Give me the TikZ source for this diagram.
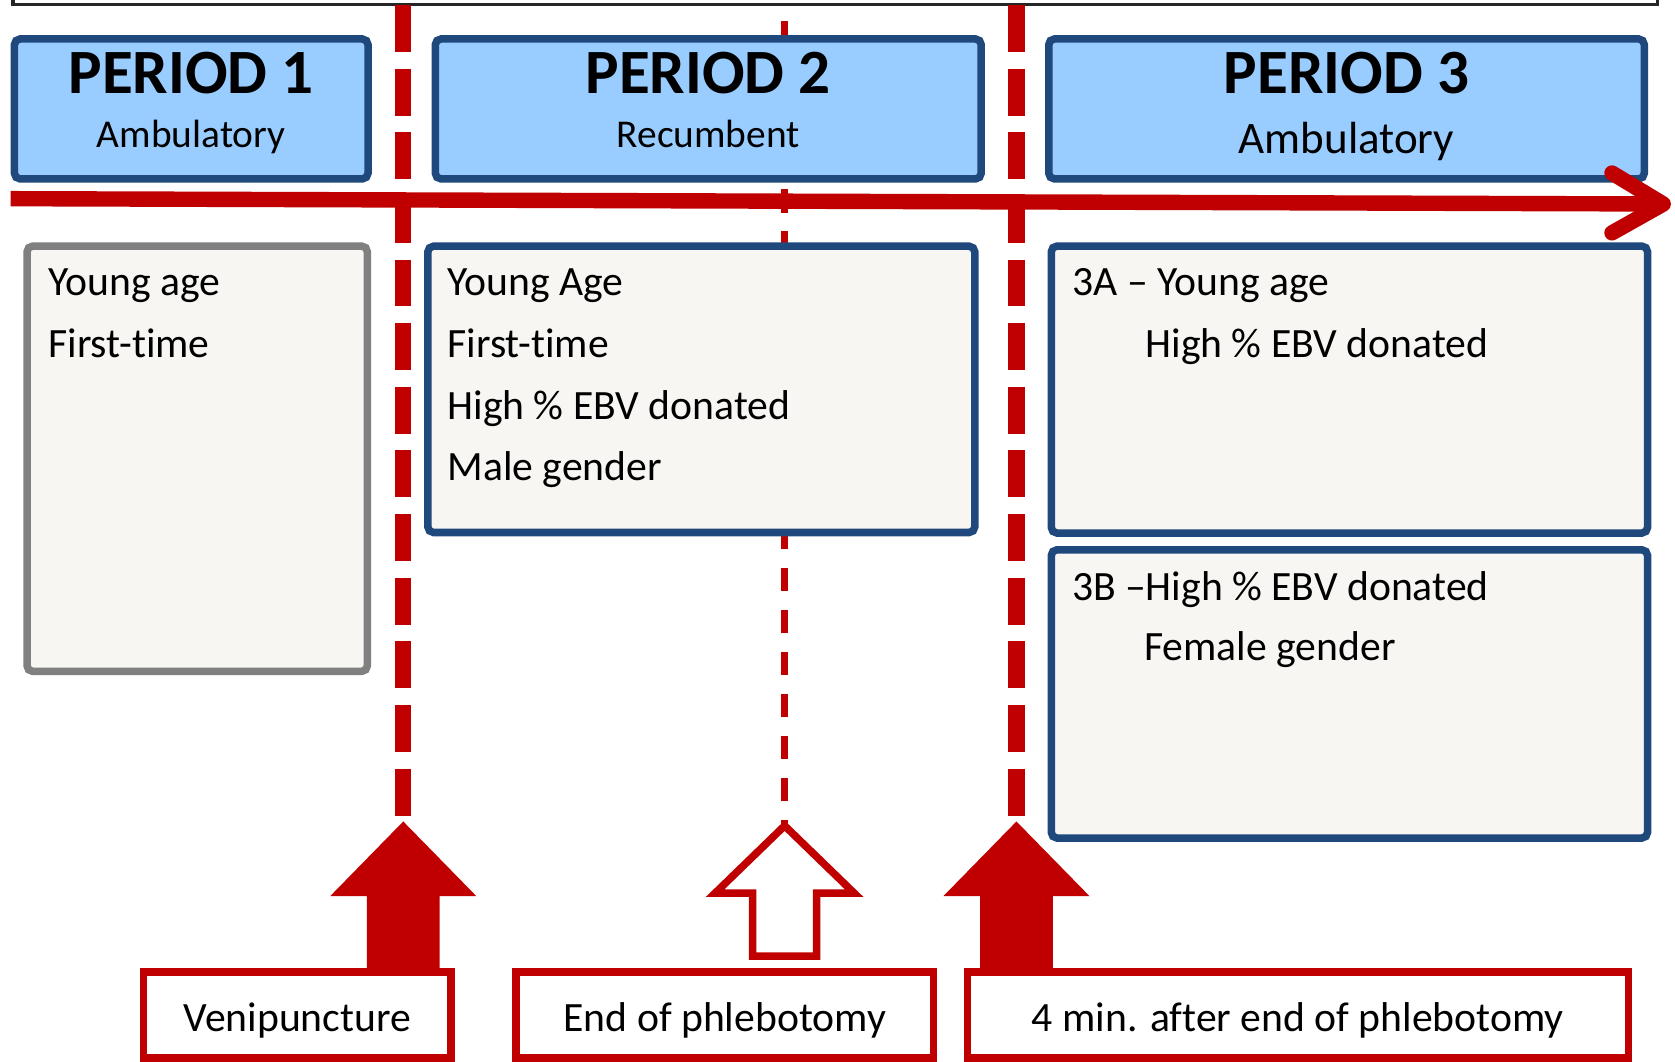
\documentclass[tikz,border=0pt]{standalone}
\usepackage{fontspec}
\setmainfont{Carlito}[Ligatures=NoCommon]
\usetikzlibrary{positioning, calc, backgrounds}
\definecolor{markred}{RGB}{192, 0, 0}
\definecolor{boxblue}{RGB}{31, 73, 125}
\definecolor{skyfill}{RGB}{153, 204, 255}
\definecolor{paper}{RGB}{247, 246, 242}
\definecolor{framegray}{RGB}{128, 128, 128}

\begin{document}
\begin{tikzpicture}[
    period/.style={rectangle, rounded corners=1.5pt, minimum height=1.31cm, draw=boxblue, fill=skyfill, line width=2pt},
    listbox/.style={rectangle, rounded corners=1.5pt, draw=boxblue, fill=paper, line width=2pt},
    eventbox/.style={rectangle, minimum height=0.805cm, draw=markred, fill=white, line width=2pt, text height=9.5pt, text depth=0.5pt, font=\fontsize{11.1}{13}\selectfont},
    title/.style={anchor=base, inner sep=0pt, font=\fontsize{16.8}{20}\selectfont\bfseries},
    subtitle/.style={anchor=base, inner sep=0pt, font=\fontsize{10.5}{13}\selectfont},
    item/.style={anchor=base west, inner sep=0pt, font=\fontsize{11.1}{13}\selectfont},
    timeline/.style={line width=4.1pt, draw=markred},
    cut/.style={line width=4.3pt, draw=markred, dash pattern=on 12.5pt off 4.45pt},
    thincut/.style={line width=1.7pt, draw=markred, dash pattern=on 6.3pt off 4.9pt},
    solidup/.style={fill=markred},
    hollowup/.style={draw=markred, fill=white, line width=2pt}
]
\useasboundingbox (0,0) rectangle (15.68,9.94);

% Frame
\draw[line width=0.9pt, black!85] (0.12,10.2) |- (15.515,9.897) -- (15.515,10.2);

% Cut points
\coordinate (topA) at (3.775,9.893);
\coordinate (tipA) at (3.775,2.25);
\coordinate (topB) at (7.345,9.744);
\coordinate (tipB) at (7.345,2.21);
\coordinate (topC) at (9.515,9.893);
\coordinate (tipC) at (9.515,2.25);

\draw[cut] (topA) -- (tipA);
\draw[thincut] (topB) -- (tipB);
\draw[cut] (topC) -- (tipC);

% Periods
\node (p1) [period, minimum width=3.31cm] at (1.79,8.92) {};
\node (p2) [period, minimum width=5.11cm] at (6.63,8.92) {};
\node (p3) [period, minimum width=5.575cm] at (12.605,8.92) {};

\node (p1title) [title] at (1.79,9.06) {PERIOD 1};
\node (p2title) [title] at (6.63,9.06) {PERIOD 2};
\node (p3title) [title] at (12.605,9.06) {PERIOD 3};
\node (p1mode) [subtitle] at (1.79,8.56) {Ambulatory};
\node (p2mode) [subtitle] at (6.63,8.56) {Recumbent};
\node (p3mode) [subtitle, font=\fontsize{12}{14}\selectfont] at (12.605,8.50) {Ambulatory};

% Time axis
\coordinate (tstart) at (0.10,8.08);
\coordinate (tend) at (15.57,8.03);
\draw[timeline] (tstart) -- (tend);
\draw[timeline, line cap=round, line join=round] (tend) ++(-0.48,0.29) -- (tend) -- ++(-0.48,-0.27);

% Lists
\node (list1) [listbox, draw=framegray, minimum width=3.186cm, minimum height=3.981cm] at (1.846,5.6455) {};
\node (list2) [listbox, minimum width=5.12cm, minimum height=2.68cm] at (6.565,6.295) {};
\node (list3a) [listbox, minimum width=5.582cm, minimum height=2.686cm] at (12.632,6.293) {};
\node (list3b) [listbox, minimum width=5.582cm, minimum height=2.698cm] at (12.632,3.444) {};

\foreach \txt [count=\i] in {Young age, First-time}
    \node (p1item\i) [item] at ({0.446},{7.172-0.578*(\i-1)}) {\txt};
\foreach \txt [count=\i] in {Young Age, First-time, High \% EBV donated, Male gender}
    \node (p2item\i) [item] at ({4.182},{7.172-0.578*(\i-1)}) {\txt};
\node (p3aitem1) [item] at (10.033,7.172) {3A – Young age};
\node (p3aitem2) [item] at (10.716,6.594) {High \% EBV donated};
\node (p3bitem1) [item] at (10.028,4.322) {3B –High \% EBV donated};
\node (p3bitem2) [item] at (10.704,3.76) {Female gender};

% Events
\node (vene) [eventbox, minimum width=2.875cm] at (2.783,0.4375) {Venipuncture};
\node (endphl) [eventbox, minimum width=3.91cm] at (6.785,0.4375) {End of phlebotomy};
\node (later) [eventbox, minimum width=6.187cm] at (12.149,0.4375) {4 min. after end of phlebotomy};

% Markers
\begin{scope}[on background layer]
\foreach \tip/\evt in {tipA/vene, tipC/later}
    \fill[solidup] (\tip) -- ++(0.685,-0.70) -- ++(-0.345,0) |- ($(\tip |- \evt.north)+(-0.34,0)$) |- ($(\tip)+(-0.685,-0.70)$) -- cycle;
\draw[hollowup] (tipB) -- ++(0.65,-0.63) -- ++(-0.35,0) |- ($(tipB |- endphl.north)+(-0.30,0.115)$) |- ($(tipB)+(-0.65,-0.63)$) -- cycle;
\end{scope}

\end{tikzpicture}
\end{document}
